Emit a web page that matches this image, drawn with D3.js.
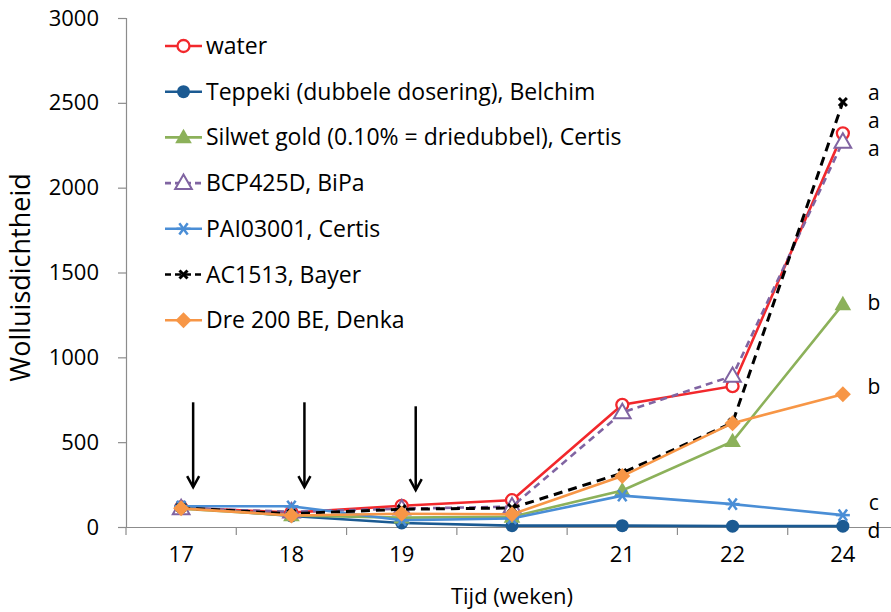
<!DOCTYPE html>
<html>
<head>
<meta charset="utf-8">
<script src="https://cdn.jsdelivr.net/npm/d3@7"></script>
<style>
  body { margin: 0; background: #fff; }
  text { font-family: "Open Sans", "Liberation Sans", sans-serif; fill: #000; }
</style>
</head>
<body>
<script>
// weeks on the category axis
const weeks = ["17", "18", "19", "20", "21", "22", "24"];
const yTicks = [0, 500, 1000, 1500, 2000, 2500, 3000];

// wolluis density per treatment
const water   = [115, 85, 125, 158, 720, 830, 2320];
const teppeki = [118, 65, 24, 8, 8, 5, 5];
const silwet  = [108, 68, 55, 60, 215, 505, 1312];
const bcp     = [110, 90, 108, 120, 675, 890, 2270];
const pai     = [122, 122, 40, 50, 185, 135, 70];
const ac      = [112, 78, 105, 112, 318, 615, 2505];
const dre     = [110, 68, 78, 75, 300, 612, 782];

const seriesNames = [
  "water",
  "Teppeki (dubbele dosering), Belchim",
  "Silwet gold (0.10% = driedubbel), Certis",
  "BCP425D, BiPa",
  "PAI03001, Certis",
  "AC1513, Bayer",
  "Dre 200 BE, Denka"
];
const seriesValues = [water, teppeki, silwet, bcp, pai, ac, dre];
const seriesColors = ["#f2282c", "#1b5a92", "#8cb15a", "#8064a2", "#4a8ed6", "#000000", "#f79646"];
const seriesMarkers = ["openCircle", "circle", "triangle", "openTriangle", "star", "cross", "diamond"];
const seriesDash = [null, null, null, "7,5", null, "9,6", null];

// significance letters at week 24
const letters = ["a", "a", "a", "b", "b", "c", "d"];
const letterValues = [2560, 2395, 2228, 1325, 825, 145, -20];

// treatment moments (arrows)
const arrowWeeks = ["17", "18", "19"];

const W = 891, H = 612;
const margin = { left: 126, right: -7, top: 18, bottom: 85 };

const svg = d3.select("body").append("svg")
  .attr("width", W).attr("height", H);

const x = d3.scaleBand().domain(weeks)
  .range([margin.left, W - margin.right]);
const y = d3.scaleLinear().domain([0, 3000])
  .range([H - margin.bottom, margin.top]);

const axisColor = "#8c8c8c";

// y axis
const gy = svg.append("g").attr("transform", `translate(${margin.left},0)`)
  .call(d3.axisLeft(y).tickValues(yTicks).tickFormat(d3.format("d")).tickSize(8).tickPadding(19));
gy.select(".domain").attr("stroke", axisColor).attr("stroke-width", 1.2);
gy.selectAll(".tick line").attr("stroke", axisColor).attr("stroke-width", 1.2);
gy.selectAll(".tick text").style("font-size", "22px");

// x axis
const gx = svg.append("g").attr("transform", `translate(0,${y(0)})`)
  .call(d3.axisBottom(x).tickSize(0).tickPadding(19));
gx.select(".domain").attr("stroke", axisColor).attr("stroke-width", 1.2);
gx.selectAll(".tick text").style("font-size", "22px").attr("dy", "0.71em");
// tick marks between categories
gx.selectAll(".sep").data(weeks).enter().append("line")
  .attr("x1", d => x(d)).attr("x2", d => x(d))
  .attr("y1", 0).attr("y2", 8)
  .attr("stroke", axisColor).attr("stroke-width", 1.2);

// axis titles
svg.append("text")
  .attr("transform", `translate(30,${(y(0) + y(3000)) / 2 + 5}) rotate(-90)`)
  .attr("text-anchor", "middle")
  .style("font-size", "27px")
  .text("Wolluisdichtheid");
svg.append("text")
  .attr("x", x("20") + x.bandwidth() / 2).attr("y", 604)
  .attr("text-anchor", "middle")
  .style("font-size", "22px")
  .text("Tijd (weken)");

// markers
function drawMarker(g, type, color, cx, cy) {
  if (type === "openCircle") {
    g.append("circle").attr("cx", cx).attr("cy", cy).attr("r", 6)
      .attr("fill", "#fff").attr("stroke", color).attr("stroke-width", 2.3);
  } else if (type === "circle") {
    g.append("circle").attr("cx", cx).attr("cy", cy).attr("r", 6.5)
      .attr("fill", color);
  } else if (type === "triangle" || type === "openTriangle") {
    const sym = d3.symbol().type(d3.symbolTriangle).size(120);
    g.append("path").attr("d", sym())
      .attr("transform", `translate(${cx},${cy + 1})`)
      .attr("fill", type === "triangle" ? color : "#fff")
      .attr("stroke", color).attr("stroke-width", type === "triangle" ? 0 : 2);
  } else if (type === "star") {
    const r = 7;
    const p = [[-r, 0, r, 0], [-r * 0.6, -r * 0.8, r * 0.6, r * 0.8], [-r * 0.6, r * 0.8, r * 0.6, -r * 0.8]];
    p.forEach(q => g.append("line")
      .attr("x1", cx + q[0]).attr("y1", cy + q[1]).attr("x2", cx + q[2]).attr("y2", cy + q[3])
      .attr("stroke", color).attr("stroke-width", 2.5));
  } else if (type === "cross") {
    const r = 4;
    [[-r, -r, r, r], [-r, r, r, -r]].forEach(q => g.append("line")
      .attr("x1", cx + q[0]).attr("y1", cy + q[1]).attr("x2", cx + q[2]).attr("y2", cy + q[3])
      .attr("stroke", color).attr("stroke-width", 3));
  } else if (type === "diamond") {
    const r = 8;
    g.append("path")
      .attr("d", `M${cx},${cy - r} L${cx + r},${cy} L${cx},${cy + r} L${cx - r},${cy} Z`)
      .attr("fill", color);
  }
}

const cx = d => x(d) + x.bandwidth() / 2;
const line = d3.line().x((v, i) => cx(weeks[i])).y(v => y(v));

const plot = svg.append("g");
seriesValues.forEach((vals, k) => {
  const g = plot.append("g");
  g.append("path").datum(vals)
    .attr("d", line)
    .attr("fill", "none")
    .attr("stroke", seriesColors[k])
    .attr("stroke-width", k === 5 ? 3 : 2.6)
    .attr("stroke-dasharray", seriesDash[k]);
  vals.forEach((v, i) => drawMarker(g, seriesMarkers[k], seriesColors[k], cx(weeks[i]), y(v)));
});

// arrows for treatment moments
const arrowTop = 735, arrowTip = 235;
arrowWeeks.forEach((w, i) => {
  const ax = cx(w) + 12 + i;
  const y1 = y(arrowTop) + (i === 2 ? 4 : 0);
  const y2 = y(arrowTip) + (i === 2 ? 3 : 0);
  svg.append("line").attr("x1", ax).attr("x2", ax).attr("y1", y1).attr("y2", y2)
    .attr("stroke", "#000").attr("stroke-width", 2.5);
  svg.append("path")
    .attr("d", `M${ax - 6},${y2 - 11} L${ax},${y2} L${ax + 6},${y2 - 11}`)
    .attr("fill", "none").attr("stroke", "#000").attr("stroke-width", 2.5);
});

// significance letters
svg.selectAll(".letter").data(letters).enter().append("text")
  .attr("x", cx("24") + 31)
  .attr("y", (d, i) => y(letterValues[i]))
  .attr("dy", "0.35em")
  .attr("text-anchor", "middle")
  .style("font-size", "21px")
  .text(d => d);

// legend
const legend = svg.append("g").attr("transform", "translate(165,46)");
seriesNames.forEach((name, k) => {
  const g = legend.append("g").attr("transform", `translate(0,${k * 45.7})`);
  g.append("line").attr("x1", 0).attr("x2", 37).attr("y1", 0).attr("y2", 0)
    .attr("stroke", seriesColors[k]).attr("stroke-width", 2.6)
    .attr("stroke-dasharray", seriesDash[k] ? "6,4" : null);
  drawMarker(g, seriesMarkers[k], seriesColors[k], 18.5, 0);
  g.append("text").attr("x", 41).attr("y", 0).attr("dy", "0.35em")
    .style("font-size", "23px")
    .text(name);
});
</script>
</body>
</html>
